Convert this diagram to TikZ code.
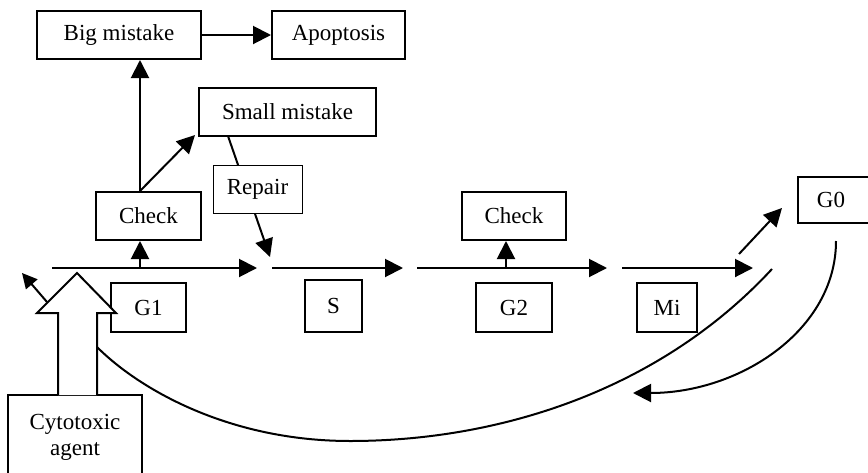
\documentclass[tikz,border=0pt]{standalone}
\usepackage{fontspec}
\setmainfont{Liberation Serif}
\usetikzlibrary{arrows.meta}
\begin{document}
\begin{tikzpicture}[x=1pt,y=-1pt,
  box/.style={draw,line width=2pt,fill=white,inner sep=0pt,font=\fontsize{23}{26}\selectfont},
  thinbox/.style={draw,line width=1pt,fill=white,inner sep=0pt,font=\fontsize{23}{26}\selectfont},
  conn/.style={line width=2pt,-{Triangle[length=18pt,width=18pt]}},
  line/.style={line width=2pt}]
\useasboundingbox (0,0) rectangle (868,472);
\clip (0,0) rectangle (868,472);
\fill[white] (0,0) rectangle (868,472);
% boxes
\node[box,minimum width=164pt,minimum height=48pt] (big) at (119,35) {Big mistake};
\node[box,minimum width=133pt,minimum height=48pt] (apop) at (338.5,35) {Apoptosis};
\node[box,minimum width=177pt,minimum height=48pt] (small) at (287.5,112) {Small mistake};
\node[box,minimum width=105pt,minimum height=48pt] (check1) at (148.5,216) {Check};
\node[box,minimum width=104pt,minimum height=48pt] (check2) at (514,216) {Check};
\node[box,minimum width=75pt,minimum height=49pt] (g1) at (148.5,307.5) {G1};
\node[box,minimum width=57pt,minimum height=52pt] (s) at (333.5,306) {S};
\node[box,minimum width=76pt,minimum height=49pt] (g2) at (514,307.5) {G2};
\node[box,minimum width=60pt,minimum height=49pt] (mi) at (667,307.5) {Mi};
\node[box,minimum width=82pt,minimum height=46pt] (g0) at (839,200) {\hspace*{-16pt}G0};
\node[box,minimum width=134pt,minimum height=85pt,align=center] (cyto) at (75,437.5) {Cytotoxic\\agent};
% coordinates
\coordinate (l1s) at (52,268);  \coordinate (l1e) at (257,268);
\coordinate (l2s) at (272,268); \coordinate (l2e) at (403,268);
\coordinate (l3s) at (417,268); \coordinate (l3e) at (607,268);
\coordinate (l4s) at (622,268); \coordinate (l4e) at (753,268);
\coordinate (c1) at (140,268);
\coordinate (c2) at (506,268);
\coordinate (smtip) at (195,135);
\coordinate (rs) at (228,136);
\coordinate (rt) at (270,257);
\coordinate (g0s) at (739,254);
\coordinate (g0t) at (782,208);
\coordinate (uls) at (47,302);
\coordinate (ult) at (22,273);
\coordinate (cb1) at (836,241);
\coordinate (cb2) at (633,393);
\coordinate (lc1) at (772,269);
\coordinate (lcm) at (350,441);
\coordinate (lc2) at (97,347);
% main cycle lines
\draw[conn] (l1s) -- (l1e);
\draw[conn] (l2s) -- (l2e);
\draw[conn] (l3s) -- (l3e);
\draw[conn] (l4s) -- (l4e);
% checks
\draw[conn] (c1) -- (c1 |- check1.south);
\draw[conn] (c2) -- (c2 |- check2.south);
\draw[conn] (c1 |- check1.north) -- (c1 |- big.south);
\draw[conn] (c1 |- check1.north) -- (smtip);
\draw[conn] (big.east) -- (apop.west);
% repair
\draw[conn] (rs) -- (rt);
\node[thinbox,minimum width=89pt,minimum height=48pt] (repair) at (257.5,189) {Repair};
% G0
\draw[conn] (g0s) -- (g0t);
\draw[conn] (cb1) .. controls (836,330) and (740,393) .. (cb2);
% long curve
\draw[line] (lc1) .. controls (660,390) and (500,441) .. (lcm) .. controls (230,441) and (140,390) .. (lc2);
% small up-left arrow
\draw[line width=2pt,-{Triangle[length=15pt,width=15pt]}] (uls) -- (ult);
% block arrow
\draw[line width=2pt,fill=white,line join=miter] (58,395) -- (58,313) -- (37,313) -- (77,273) -- (116,313) -- (97,313) -- (97,395);
\end{tikzpicture}
\end{document}
